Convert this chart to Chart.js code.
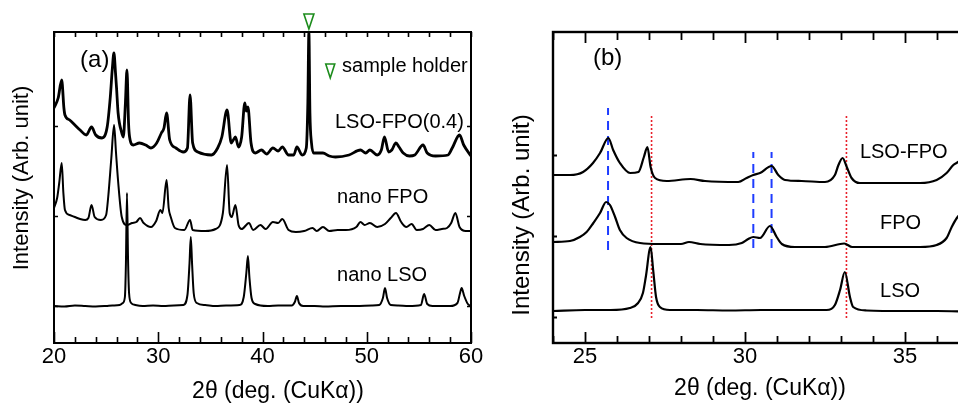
<!DOCTYPE html>
<html lang="en">
<head>
  <meta charset="UTF-8">
  <title>XRD patterns (a) and (b)</title>
  <script src="https://cdn.jsdelivr.net/npm/chart.js"></script>
  <style>
    html, body { margin: 0; padding: 0; background: #fff; overflow: hidden; }
    body { width: 958px; height: 403px; position: relative; }
    canvas { position: absolute; top: 0; }
    #chartA { left: 0; }
    #chartB { left: 480px; }
  </style>
</head>
<body>

  <canvas id="chartA" width="500" height="403"></canvas>
  <canvas id="chartB" width="500" height="403"></canvas>

  <script>
    const FONT = "'Liberation Sans', Arial, Helvetica, sans-serif";
    const AXIS_TITLE = '2θ (deg. (CuKα))';
    const Y_TITLE = 'Intensity (Arb. unit)';

    // ---- panel (a): 2theta 20-60, stacked patterns ----
    const aTicks = [20, 30, 40, 50, 60];
    const aNames = ['LSO-FPO(0.4)', 'nano FPO', 'nano LSO'];

    const aLsoAngle = [20.0,21.0,22.0,23.0,24.0,25.0,25.6,26.3,26.6,26.8,26.9,27.0,27.1,27.2,27.4,27.8,28.5,29.5,30.5,31.5,32.4,32.8,33.0,33.12,33.25,33.4,33.7,34.5,35.5,36.5,37.8,38.2,38.45,38.6,38.75,38.95,39.3,40.5,41.5,42.8,43.1,43.3,43.5,43.9,45.0,46.0,47.5,49.0,50.5,51.2,51.55,51.75,51.95,52.3,53.0,54.0,55.2,55.5,55.8,56.3,57.0,58.0,58.7,58.95,59.1,59.35,59.7,60.0];
    const aLsoInt = [37,36.5,37.5,37,36.5,37,37.5,38,40,46,80,150,85,50,40,38,37,37.5,37,37.5,38,48,80,106,78,50,40,38,37,37.5,38,46,70,87,65,45,39,37,37.5,37.5,41,47,40,37,37,36.5,37,37,37.5,38,45,55,45,38,37.5,37,38,49,39,37,37,37,40,50,55,47,39,37];

    const aFpoAngle = [20.0,20.3,20.5,20.74,20.9,21.05,21.5,22.0,22.5,23.0,23.3,23.6,23.9,24.5,25.0,25.2,25.5,25.76,25.95,26.14,26.5,27.0,27.5,27.9,28.25,28.6,29.3,29.8,30.2,30.4,30.8,31.0,31.2,31.6,32.5,33.05,33.3,34.5,35.5,36.2,36.6,36.85,37.05,37.4,37.7,38.0,38.7,39.1,39.8,40.3,41.0,41.5,41.9,42.5,43.2,44.0,44.8,45.2,45.8,46.4,47.2,48.0,49.0,49.4,49.8,50.3,51.0,51.75,52.3,52.8,53.3,53.8,54.3,54.8,55.4,56.0,56.6,57.2,57.7,58.1,58.5,58.9,59.5,60.0];
    const aFpoInt = [135,145,160,180,150,133,128,126,124,123,125,138,126,123,128,146,185,218,190,163,126,118,120,121,125,120,116,122,133,130,163,135,126,115,113,123,113,112,114,130,178,130,126,138,118,114,120,113,118,114,121,120,124,113,111,112,115,112,116,112,113,113,116,121,118,120,116,119,125,130,121,116,119,113,114,118,113,114,115,120,130,116,112,112];

    const aMixAngle = [20.0,20.4,20.74,20.95,21.05,21.5,22.0,22.5,23.1,23.6,24.0,24.6,25.1,25.4,25.6,25.75,25.9,26.0,26.15,26.5,26.65,26.85,27.0,27.15,27.25,27.6,28.2,28.8,29.3,29.85,30.3,30.55,30.8,31.1,31.7,32.4,32.8,33.05,33.3,33.8,35.1,35.7,36.1,36.6,37.0,37.2,37.4,37.7,38.0,38.3,38.45,38.6,38.9,39.3,39.9,40.4,41.0,41.5,41.9,42.5,43.0,43.3,43.8,44.2,44.35,44.45,44.55,44.7,44.9,45.8,46.4,47.0,48.3,49.4,49.9,50.3,51.0,51.4,51.7,52.1,52.4,52.8,53.1,53.5,54.1,54.6,55.4,55.8,56.6,57.8,58.2,58.9,59.3,60.0];
    const aMixInt = [235,245,263,235,228,223,218,213,208,216,208,205,216,246,275,290,270,255,230,210,206,240,273,220,206,198,200,198,195,200,210,215,230,203,195,191,195,248,200,191,188,195,206,233,200,203,206,196,206,240,232,236,200,190,193,189,195,192,196,188,188,196,188,195,240,311,230,200,190,190,187,186,188,193,190,193,188,193,206,191,193,200,196,190,187,188,198,190,187,188,195,208,198,187];

    const holderAngle = 44.45;

    // ---- panel (b): 2theta 24-37 (right side cut off) ----
    const bTicks = [25, 30, 35];
    const bNames = ['LSO-FPO', 'FPO', 'LSO'];

    const bLsoAngle = [24.0,25.0,25.8,26.4,26.66,26.81,26.9,27.05,27.13,27.22,27.34,27.65,28.5,29.5,30.5,31.5,32.55,32.81,32.97,33.12,33.28,33.38,33.8,35.0,36.0,37.0];
    const bLsoInt = [32,33,33,35,40,50,66,96,73,46,36,33,33,32.5,33,33,33,38,53,71,46,36,32.5,32,32,31.5];

    const bFpoAngle = [24.0,24.53,24.84,25.05,25.26,25.47,25.66,25.78,25.94,26.09,26.3,26.72,27.34,28.0,28.25,28.6,29.5,29.9,30.1,30.26,30.47,30.78,30.99,31.15,31.56,32.5,33.1,33.35,34.5,35.47,35.99,36.3,36.46,36.62,36.9,37.0];
    const bFpoInt = [101,102,106,111,120,130,141,138,126,113,105,100,99,99,101,99,98,100,104,106,105,117,106,99,96,96,99.5,96,96,96,98,105,116,125,135,138];

    const bMixAngle = [24.0,24.53,24.94,25.25,25.47,25.73,25.88,26.09,26.41,26.67,26.84,26.95,27.05,27.19,27.55,28.3,28.75,29.79,30.05,30.26,30.47,30.83,31.04,31.25,31.77,32.5,32.81,32.92,33.05,33.18,33.33,33.59,35.47,35.99,36.3,36.51,36.66,37.0];
    const bMixInt = [168,168,171,180,190,205,193,180,170,171,186,196,176,165,162,164,162,161,165,168,170,177,168,163,162,161,168,178,185,176,165,160,160,163,170,178,181,190];

    // peak guide lines: FPO (blue dashed), LSO (red dotted)
    const bBlueAngles = [25.72, 30.26, 30.83];
    const bBlueLow = [93, 95, 95];
    const bBlueHigh = [235, 191, 191];
    const bRedAngles = [27.08, 33.17];
    const bRedLow = [25, 25];
    const bRedHigh = [227, 227];

    function pts(xs, ys) {
      return xs.map((x, i) => ({ x: x, y: ys[i] }));
    }

    function curve(xs, ys, w) {
      return { data: pts(xs, ys), borderColor: '#000', borderWidth: w, fill: false, cubicInterpolationMode: 'monotone' };
    }

    function guide(x, lo, hi, color, w, dash) {
      return { data: [{ x: x, y: lo }, { x: x, y: hi }], borderColor: color, borderWidth: w, borderDash: dash, fill: false };
    }

    // frame, inner ticks, labels and markers
    const decor = {
      id: 'decor',
      afterDatasetsDraw(chart, args, o) {
        const ctx = chart.ctx, a = chart.chartArea;
        const xs = chart.scales.x, ys = chart.scales.y;
        ctx.save();
        ctx.strokeStyle = '#000';
        ctx.lineWidth = o.frameWidth;
        ctx.strokeRect(a.left, a.top, a.right - a.left, a.bottom - a.top);

        ctx.lineWidth = o.tickWidth;
        ctx.beginPath();
        for (let v = xs.min; v <= xs.max + 1e-6; v += o.minorStep) {
          const px = Math.round(xs.getPixelForValue(v)) + 0.5;
          const major = Math.abs(v / o.majorStep - Math.round(v / o.majorStep)) < 1e-6;
          ctx.moveTo(px, a.bottom);
          ctx.lineTo(px, a.bottom - (major ? o.bottomMajor : o.bottomMinor));
          ctx.moveTo(px, a.top);
          ctx.lineTo(px, a.top + (major ? o.topMajor : o.topMinor));
        }
        o.yTicks.forEach(v => {
          const py = Math.round(ys.getPixelForValue(v)) + 0.5;
          ctx.moveTo(a.left, py);
          ctx.lineTo(a.left + o.yLen, py);
          ctx.moveTo(a.right, py);
          ctx.lineTo(a.right - o.yLen, py);
        });
        ctx.stroke();

        ctx.fillStyle = '#000';
        ctx.textBaseline = 'middle';
        ctx.textAlign = 'left';
        o.labels.forEach(l => {
          ctx.font = l.size + 'px ' + FONT;
          ctx.fillText(l.text, xs.getPixelForValue(l.x), ys.getPixelForValue(l.y));
        });

        (o.markers || []).forEach(m => {
          const cx = xs.getPixelForValue(m.x);
          const tip = m.above ? a.top - 3 : ys.getPixelForValue(m.y) + m.h / 2;
          ctx.strokeStyle = '#1c8c1c';
          ctx.lineWidth = 1.6;
          ctx.beginPath();
          ctx.moveTo(cx - m.w / 2, tip - m.h);
          ctx.lineTo(cx + m.w / 2, tip - m.h);
          ctx.lineTo(cx, tip);
          ctx.closePath();
          ctx.stroke();
        });

        ctx.textAlign = 'center';
        ctx.font = o.xTitle.size + 'px ' + FONT;
        ctx.fillText(AXIS_TITLE, o.xTitle.x, o.xTitle.y);
        ctx.translate(o.yTitle.x, o.yTitle.y);
        ctx.rotate(-Math.PI / 2);
        ctx.font = o.yTitle.size + 'px ' + FONT;
        ctx.fillText(Y_TITLE, 0, 0);
        ctx.restore();
      }
    };

    function makeChart(id, datasets, xMin, xMax, ticks, pad, decorOpts) {
      return new Chart(document.getElementById(id), {
        type: 'line',
        data: { datasets: datasets },
        options: {
          responsive: false,
          animation: false,
          events: [],
          layout: { padding: pad },
          elements: { point: { radius: 0 }, line: { borderJoinStyle: 'round' } },
          plugins: { legend: { display: false }, tooltip: { enabled: false }, decor: decorOpts },
          scales: {
            x: {
              type: 'linear', min: xMin, max: xMax,
              grid: { display: false, drawTicks: false },
              border: { display: false },
              afterBuildTicks: s => { s.ticks = ticks.map(v => ({ value: v })); },
              afterFit: s => { s.height = 60; },
              ticks: { padding: 1, color: '#000', maxRotation: 0, autoSkip: false, font: { family: FONT, size: 22 } }
            },
            y: { type: 'linear', min: 0, max: 311, display: false }
          }
        },
        plugins: [decor]
      });
    }

    makeChart('chartA', [
      curve(aLsoAngle, aLsoInt, 2),
      curve(aFpoAngle, aFpoInt, 2),
      curve(aMixAngle, aMixInt, 2.8)
    ], 20, 60, aTicks, { left: 54, top: 32, right: 29, bottom: 0 }, {
      frameWidth: 2, tickWidth: 1.6, minorStep: 2, majorStep: 10,
      bottomMajor: 11, bottomMinor: 6, topMajor: 5, topMinor: 5,
      yTicks: [37, 127, 217], yLen: 4,
      labels: [
        { text: '(a)', x: 22.5, y: 283, size: 24 },
        { text: 'sample holder', x: 47.63, y: 277, size: 20 },
        { text: aNames[0], x: 46.95, y: 221, size: 20 },
        { text: aNames[1], x: 47.15, y: 146, size: 20 },
        { text: aNames[2], x: 47.15, y: 68, size: 20 }
      ],
      markers: [
        { x: holderAngle, above: true, w: 10, h: 15 },
        { x: 46.5, y: 272, w: 9, h: 14 }
      ],
      xTitle: { x: 278, y: 392, size: 23 },
      yTitle: { x: 22, y: 178, size: 22 }
    });

    const bGuides = [];
    bBlueAngles.forEach((x, i) => bGuides.push(guide(x, bBlueLow[i], bBlueHigh[i], '#1e3cff', 2, [9, 6])));
    bRedAngles.forEach((x, i) => bGuides.push(guide(x, bRedLow[i], bRedHigh[i], '#e8202a', 1.6, [2, 2])));

    makeChart('chartB', [
      curve(bLsoAngle, bLsoInt, 2.2),
      curve(bFpoAngle, bFpoInt, 2.2),
      curve(bMixAngle, bMixInt, 2.2)
    ].concat(bGuides), 24, 37, bTicks, { left: 73, top: 32, right: 11, bottom: 0 }, {
      frameWidth: 2.4, tickWidth: 1.8, minorStep: 1, majorStep: 5,
      bottomMajor: 11, bottomMinor: 7, topMajor: 11, topMinor: 8,
      yTicks: [26, 107, 188], yLen: 4,
      labels: [
        { text: '(b)', x: 25.25, y: 285, size: 24 },
        { text: bNames[0], x: 33.59, y: 191, size: 20 },
        { text: bNames[1], x: 34.22, y: 120, size: 20 },
        { text: bNames[2], x: 34.22, y: 52, size: 20 }
      ],
      markers: [],
      xTitle: { x: 280, y: 389, size: 23 },
      yTitle: { x: 42, y: 215, size: 24 }
    });
  </script>

</body>
</html>
